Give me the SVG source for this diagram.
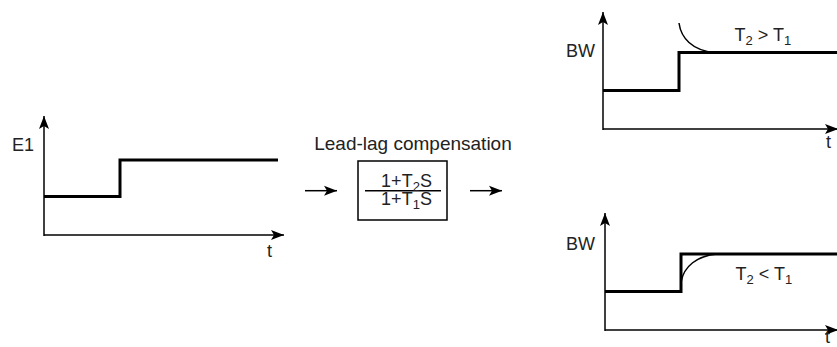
<svg xmlns="http://www.w3.org/2000/svg" width="837" height="347" viewBox="0 0 837 347">
<defs>
<style>
.axis{stroke:#000;stroke-width:1.5;fill:none}
.sig{stroke:#000;stroke-width:3;fill:none;stroke-linejoin:miter}
.thin{stroke:#000;stroke-width:1.5;fill:none}
text{font-family:"Liberation Sans",Arial,sans-serif;fill:#222;font-size:18px}
.sub{font-size:13px}
</style>
<marker id="ah" markerUnits="userSpaceOnUse" markerWidth="14" markerHeight="12" refX="13" refY="5" orient="auto" viewBox="0 0 14 10">
<path d="M0,0 L13,5 L0,10 L3,5 Z" fill="#000"/>
</marker>
</defs>
<rect width="837" height="347" fill="#fff"/>
<g id="chart-e1">
<line class="axis" x1="44" y1="236" x2="44" y2="116" marker-end="url(#ah)"/>
<line class="axis" x1="44" y1="235" x2="284" y2="235" marker-end="url(#ah)"/>
<polyline class="sig" points="44,196.5 120,196.5 120,160 278,160"/>
<text x="12" y="151">E1</text>
<text x="267" y="257">t</text>
</g>
<g id="lead-lag-block">
<text x="413" y="150" text-anchor="middle" style="font-size:19px">Lead-lag compensation</text>
<rect x="358" y="161" width="89" height="59" fill="none" stroke="#000" stroke-width="1.5"/>
<line x1="365" y1="190.7" x2="441" y2="190.7" stroke="#000" stroke-width="1.5"/>
<text x="406.5" y="186.5" text-anchor="middle">1+T<tspan class="sub" dy="4">2</tspan><tspan dy="-4">S</tspan></text>
<text x="406.5" y="205" text-anchor="middle">1+T<tspan class="sub" dy="4">1</tspan><tspan dy="-4">S</tspan></text>
</g>
<g id="chart-bw-lead">
<line class="axis" x1="603" y1="130" x2="603" y2="12" marker-end="url(#ah)"/>
<line class="axis" x1="603" y1="129" x2="838" y2="129" marker-end="url(#ah)"/>
<polyline class="sig" points="603,90.5 679,90.5 679,52.5 837,52.5"/>
<path class="thin" d="M679,23 C681,38 692,50 714,52.5"/>
<text x="566" y="57">BW</text>
<text x="734.5" y="40.7">T<tspan class="sub" dy="4">2</tspan><tspan dy="-4"> &gt; T</tspan><tspan class="sub" dy="4">1</tspan></text>
<text x="826" y="148">t</text>
</g>
<g id="chart-bw-lag">
<line class="axis" x1="605" y1="331" x2="605" y2="213" marker-end="url(#ah)"/>
<line class="axis" x1="605" y1="330" x2="838" y2="330" marker-end="url(#ah)"/>
<polyline class="sig" points="605,291.5 681,291.5 681,254 837,254"/>
<path class="thin" d="M681,282 C684,266 697,256 717,254"/>
<text x="566" y="250">BW</text>
<text x="735.5" y="280">T<tspan class="sub" dy="4">2</tspan><tspan dy="-4"> &lt; T</tspan><tspan class="sub" dy="4">1</tspan></text>
<text x="825" y="343">t</text>
</g>
<g id="connectors">
<line x1="305" y1="190.7" x2="337" y2="190.7" stroke="#000" stroke-width="1.5" marker-end="url(#ah)"/>
<line x1="470" y1="190.7" x2="502" y2="190.7" stroke="#000" stroke-width="1.5" marker-end="url(#ah)"/>
</g>
</svg>
